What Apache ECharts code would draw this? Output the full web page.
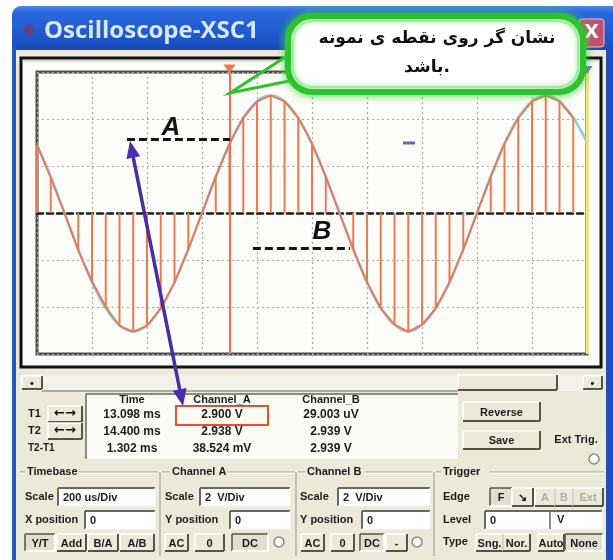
<!DOCTYPE html>
<html><head><meta charset="utf-8">
<script src="https://cdn.jsdelivr.net/npm/echarts@6/dist/echarts.min.js"></script>
<style>html,body{margin:0;padding:0;background:#fff}#c{width:613px;height:560px}</style>
</head><body><div id="c"></div>
<script>
// ---- data (time in microseconds, amplitude in volts) ----
const sampleTimes = [0,50,100,150,200,250,300,350,400,450,500,550,600,650,700,750,800,850,900,950,
  1000,1050,1100,1150,1200,1250,1300,1350,1400,1450,1500,1550,1600,1650,1700,1750,1800,1850,1900,1950];
const sampledA = [2.9,1.5,0,-1.6,-2.9,-4.0,-4.8,-5.05,-4.8,-4.05,-2.95,-1.55,0,1.55,2.94,4.05,4.75,5.0,4.75,4.05,
  2.95,1.55,0,-1.55,-2.95,-4.05,-4.75,-5.05,-4.75,-4.05,-2.95,-1.55,0,1.55,2.95,4.05,4.75,5.0,4.75,4.05];
const contTimes = [0,50,100,150,200,250,300,350,400,450,500,550,600,650,700,750,800,850,900,950,
  1000,1050,1100,1150,1200,1250,1300,1350,1400,1450,1500,1550,1600,1650,1700,1750,1800,1850,1900,1950,2000];
const contB = [2.9,1.55,0,-1.55,-2.95,-4.05,-4.78,-5.05,-4.78,-4.05,-2.95,-1.55,0,1.55,2.94,4.05,4.76,5.0,4.76,4.05,
  2.95,1.55,0,-1.55,-2.95,-4.05,-4.76,-5.05,-4.76,-4.05,-2.95,-1.55,0,1.55,2.95,4.05,4.76,5.0,4.76,4.05,3.0];
const cursorT1 = 700, cursorT2 = 2000;
const lineA = {from:327, to:702, level:3.15};
const lineB = {from:785, to:1138, level:-1.49};
const labelA = [487, 3.62], labelB = [1036, -0.81];
const tableHeaders = ['Time','Channel_A','Channel_B'];
const rowT1 = ['13.098 ms','2.900 V','29.003 uV'];
const rowT2 = ['14.400 ms','2.938 V','2.939 V'];
const rowDT = ['1.302 ms','38.524 mV','2.939 V'];
const titleText = 'Oscilloscope-XSC1';
const bubbleLine1 = 'نشان گر روی نقطه ی نمونه';
const bubbleLine2 = 'باشد.';

// ---- helpers for the window chrome ----
const G = [];
const F = '"Liberation Sans", Arial, sans-serif';
function rect(x,y,w,h,fill,stroke,lw,z,r){G.push({type:'rect',shape:{x:x,y:y,width:w,height:h,r:r||0},style:{fill:fill||'none',stroke:stroke||null,lineWidth:lw||1},z:z==null?40:z});}
function ln(x1,y1,x2,y2,c,lw,z,dash){G.push({type:'line',shape:{x1:x1,y1:y1,x2:x2,y2:y2},style:{stroke:c,lineWidth:lw||1,lineDash:dash||null},z:z==null?41:z});}
function tx(x,y,s,size,align,color,z,font){G.push({type:'text',x:x,y:y,style:{text:s,font:font||('bold '+(size||11)+'px '+F),fill:color||'#1c1c1c',align:align||'left',verticalAlign:'middle',textAlign:align||'left',textVerticalAlign:'middle'},z:z==null?45:z});}
function button(x,y,w,h,label,pressed,color){
  rect(x,y,w,h,pressed?'#e2dfd0':'#ece9d8',null,1,40);
  const hi='#ffffff', sh='#55534a';
  ln(x,y,x+w,y,pressed?sh:hi,1.5); ln(x,y,x,y+h,pressed?sh:hi,1.5);
  ln(x,y+h,x+w,y+h,pressed?hi:sh,2); ln(x+w,y,x+w,y+h,pressed?hi:sh,2);
  if(label) tx(x+w/2,y+h/2+1,label,11,'center',color);
}
function field(x,y,w,h,val){
  rect(x,y,w,h,'#ffffff',null,1,40);
  ln(x,y,x+w,y,'#6a685e',2); ln(x,y,x,y+h,'#6a685e',2);
  ln(x,y+h,x+w,y+h,'#f8f8f4',1); ln(x+w,y,x+w,y+h,'#f8f8f4',1);
  if(val) tx(x+5,y+h/2+1,val,11,'left');
}
function group(x1,x2,y,label,lx,lw){
  ln(x1,y,lx-2,y,'#a6a496',1.2); ln(lx+lw+2,y,x2,y,'#a6a496',1.2);
  ln(x1,y+1.2,lx-2,y+1.2,'#ffffff',1); ln(lx+lw+2,y+1.2,x2,y+1.2,'#ffffff',1);
  tx(lx,y,label,11,'left');
}
function radio(cx,cy){G.push({type:'circle',shape:{cx:cx,cy:cy,r:5},style:{fill:'#ffffff',stroke:'#8a887c',lineWidth:1.5},z:42});}

// window background & title bar
rect(12,46,601,514,'#ece9d8',null,1,-10);
G.push({type:'rect',shape:{x:12,y:6,width:601,height:44,r:[9,0,0,0]},style:{fill:new echarts.graphic.LinearGradient(0,0,0,1,[{offset:0,color:'#4a86ee'},{offset:0.15,color:'#2a68dc'},{offset:0.8,color:'#1b54c8'},{offset:1,color:'#1848b4'}])},z:-9});
rect(12,46,4,514,'#2255c4',null,1,-9);
rect(606,46,7,514,'#1f4fba',null,1,-9);
G.push({type:'polygon',shape:{points:[[23,30],[29,24],[36,30],[29,36]]},style:{fill:'#6b3f78'},z:-8});
tx(44,31,titleText,22,'left','#d9e7fb',-8,'bold 24px "Open Sans", "DejaVu Sans", sans-serif');
rect(579,19,25,28,'#c3506b','#f0c0c8',1,-8,3);
tx(591.5,33,'X',18,'center','#ffffff',-7,'bold 19px "DejaVu Sans", sans-serif');

// scope screen
rect(21,58,580,309,'#fcfcf8','#111111',3,-8);
ln(24,61,598,61,'#bdbdb5',1,-7);
rect(37,72,550,282,'none','#4d4d4d',3,-6);

// scrollbar
rect(20,375,583,16,'#f3f2ea',null,1,38);
button(22,376,20,13,'•',false);
button(583,376,19,13,'•',false);
button(458,375,99,15,'',false);
ln(42,391,458,391,'#6f6d62',1.2);

// cursor table
tx(28,414,'T1',11,'left'); tx(28,431,'T2',11,'left'); tx(28,448,'T2-T1',10,'left');
button(48,406,34,16,'',false); button(48,423,34,16,'',false);
tx(65,414,'←→',12,'center','#111',46,'bold 13px "DejaVu Sans", sans-serif');
tx(65,431,'←→',12,'center','#111',46,'bold 13px "DejaVu Sans", sans-serif');
rect(86,394,372,65,'#fbfbf6',null,1,38);
ln(86,394,458,394,'#6a685e',1.5); ln(86,394,86,459,'#6a685e',1.5);
const colX = [132,222,331];
for(let i=0;i<3;i++){
  tx(colX[i],400,tableHeaders[i],11,'center');
  tx(colX[i],415,rowT1[i],12,'center');
  tx(colX[i],432,rowT2[i],12,'center');
  tx(colX[i],449,rowDT[i],12,'center');
}
rect(176,406,92,19,'none','#e2512e',2,47);
button(463,402,77,19,'Reverse',false);
button(463,431,77,18,'Save',false);
tx(576,440,'Ext Trig.',11,'center');
radio(594,459);

// control groups
group(20,158,472,'Timebase',27,50);
group(162,295,472,'Channel A',172,52);
group(298,432,472,'Channel B',307,56);
group(436,604,472,'Trigger',443,44);
ln(160,472,160,556,'#a6a496',1.2); ln(296,472,296,556,'#a6a496',1.2); ln(434,472,434,556,'#a6a496',1.2);

tx(25,497,'Scale',11); field(58,488,97,18,'200 us/Div');
tx(25,520,'X position',11); field(85,511,70,18,'0');
button(25,534,30,17,'Y/T',true); button(57,534,29,17,'Add',false); button(88,534,30,17,'B/A',false); button(120,534,34,17,'A/B',false);

tx(165,497,'Scale',11); field(200,488,90,18,'2  V/Div');
tx(165,520,'Y position',11); field(230,511,60,18,'0');
button(165,534,23,17,'AC',false); button(195,534,29,17,'0',false); button(232,534,36,17,'DC',true); radio(279,542);

tx(300,497,'Scale',11); field(338,488,92,18,'2  V/Div');
tx(300,520,'Y position',11); field(362,511,68,18,'0');
button(301,534,23,17,'AC',false); button(331,534,23,17,'0',false); button(360,534,24,17,'DC',true); button(386,534,21,17,'-',false); radio(417,542);

tx(443,497,'Edge',11);
button(490,488,22,18,'F',true); button(512,488,21,18,'↘',false);
button(535,488,20,18,'A',false,'#b0ae9f'); button(555,488,18,18,'B',false,'#b0ae9f'); button(573,488,30,18,'Ext',false,'#b0ae9f');
tx(443,520,'Level',11); field(485,511,117,18,'0'); ln(550,512,550,529,'#6a685e',1.5); tx(557,520,'V',11);
tx(443,542,'Type',11);
button(476,534,27,17,'Sng.',false); button(503,534,27,17,'Nor.',false); button(538,534,26,17,'Auto',false); button(565,534,38,17,'None',true);

// annotations: bubble, arrow, mark
G.push({type:'polyline',shape:{points:[[290,54],[230,93],[304,78]]},style:{stroke:'#30c030',lineWidth:3,fill:null},z:99});
G.push({type:'rect',shape:{x:288,y:16,width:295,height:76,r:24},style:{fill:'#ffffff',stroke:'#2fc22f',lineWidth:6,shadowBlur:8,shadowColor:'rgba(60,210,60,0.9)'},z:100});
G.push({type:'rect',shape:{x:293,y:21,width:285,height:66,r:20},style:{fill:'none',stroke:'rgba(150,230,150,0.7)',lineWidth:2},z:101});
tx(437,39,bubbleLine1,18,'center','#111',102,'bold 17px "DejaVu Sans", "Noto Sans", sans-serif');
tx(427,68,bubbleLine2,18,'center','#111',102,'bold 17px "DejaVu Sans", "Noto Sans", sans-serif');
(function(){
  const p1=[130,141], p2=[183,406];
  const dx=p2[0]-p1[0], dy=p2[1]-p1[1], L=Math.hypot(dx,dy), ux=dx/L, uy=dy/L, nx=uy, ny=-ux, hl=17, hw=7;
  G.push({type:'line',shape:{x1:p1[0]+ux*10,y1:p1[1]+uy*10,x2:p2[0]-ux*10,y2:p2[1]-uy*10},style:{stroke:'#4a2ea8',lineWidth:3.5},z:98});
  G.push({type:'polygon',shape:{points:[p1,[p1[0]+ux*hl+nx*hw,p1[1]+uy*hl+ny*hw],[p1[0]+ux*hl-nx*hw,p1[1]+uy*hl-ny*hw]]},style:{fill:'#4a2ea8'},z:98});
  G.push({type:'polygon',shape:{points:[p2,[p2[0]-ux*hl+nx*hw,p2[1]-uy*hl+ny*hw],[p2[0]-ux*hl-nx*hw,p2[1]-uy*hl-ny*hw]]},style:{fill:'#4a2ea8'},z:98});
})();
ln(403,143,415,143,'#7562b8',3,60);

const chart = echarts.init(document.getElementById('c'), null, {renderer:'canvas'});
const pair = (ts, vs) => ts.map((t,i)=>[t, vs[i]]);
chart.setOption({
  animation:false,
  backgroundColor:'#ffffff',
  grid:{left:37, top:72, width:550, height:282, show:false},
  xAxis:{type:'value', min:0, max:2000, interval:200,
    axisLine:{show:true, onZero:true, lineStyle:{color:'#1a1a1a', width:2.5, type:[6,4]}},
    axisTick:{show:false}, axisLabel:{show:false},
    splitLine:{show:true, lineStyle:{color:'#a9a9a9', type:[2,3], width:1.2}}},
  yAxis:{type:'value', min:-6, max:6, interval:2,
    axisLine:{show:false}, axisTick:{show:false}, axisLabel:{show:false},
    splitLine:{show:true, lineStyle:{color:'#a9a9a9', type:[2,3], width:1.2}}},
  graphic:G,
  series:[
    {type:'line', name:'B', data:pair(contTimes, contB), smooth:0.4, showSymbol:false, z:2,
     lineStyle:{color:'#8fcbe8', width:2.6}},
    {type:'custom', name:'stems', data:pair(sampleTimes, sampledA), z:3, encode:{x:0,y:1},
     renderItem:function(params, api){
       const t=api.value(0), v=api.value(1);
       const a=api.coord([t,0]), b=api.coord([t,v]);
       return {type:'line', shape:{x1:a[0],y1:a[1],x2:b[0],y2:b[1]}, style:{stroke:'#ec7b53', lineWidth:2}};
     }},
    {type:'line', name:'A', data:pair(sampleTimes, sampledA), showSymbol:false, z:4,
     lineStyle:{color:'#ec7650', width:1.8},
     markLine:{silent:true, symbol:['none','none'], label:{show:false},
       data:[
         {xAxis:cursorT1, lineStyle:{color:'#ec7650', width:2.2, type:'solid'}},
         {xAxis:cursorT2, lineStyle:{color:'#f2e47c', width:3, type:'solid'}},
         [{coord:[lineA.from,lineA.level]},{coord:[lineA.to,lineA.level], lineStyle:{color:'#151515', width:3, type:[8,4]}}],
         [{coord:[lineB.from,lineB.level]},{coord:[lineB.to,lineB.level], lineStyle:{color:'#151515', width:3, type:[8,4]}}]
       ]},
     markPoint:{silent:true,
       data:[
         {coord:[cursorT1,6], symbol:'triangle', symbolRotate:180, symbolSize:[12,9], symbolOffset:[0,-3], itemStyle:{color:'#ec7650'}, label:{show:false}},
         {coord:[cursorT2,6], symbol:'triangle', symbolRotate:180, symbolSize:[11,8], symbolOffset:[0,-2], itemStyle:{color:'#6f69c8'}, label:{show:false}},
         {coord:labelA, symbol:'circle', symbolSize:0, label:{show:true, position:'inside', formatter:'A', color:'#111', fontSize:26, fontWeight:'bold', fontStyle:'italic', fontFamily:'Liberation Sans'}},
         {coord:labelB, symbol:'circle', symbolSize:0, label:{show:true, position:'inside', formatter:'B', color:'#111', fontSize:26, fontWeight:'bold', fontStyle:'italic', fontFamily:'Liberation Sans'}}
       ]}}
  ]
});
</script></body></html>
